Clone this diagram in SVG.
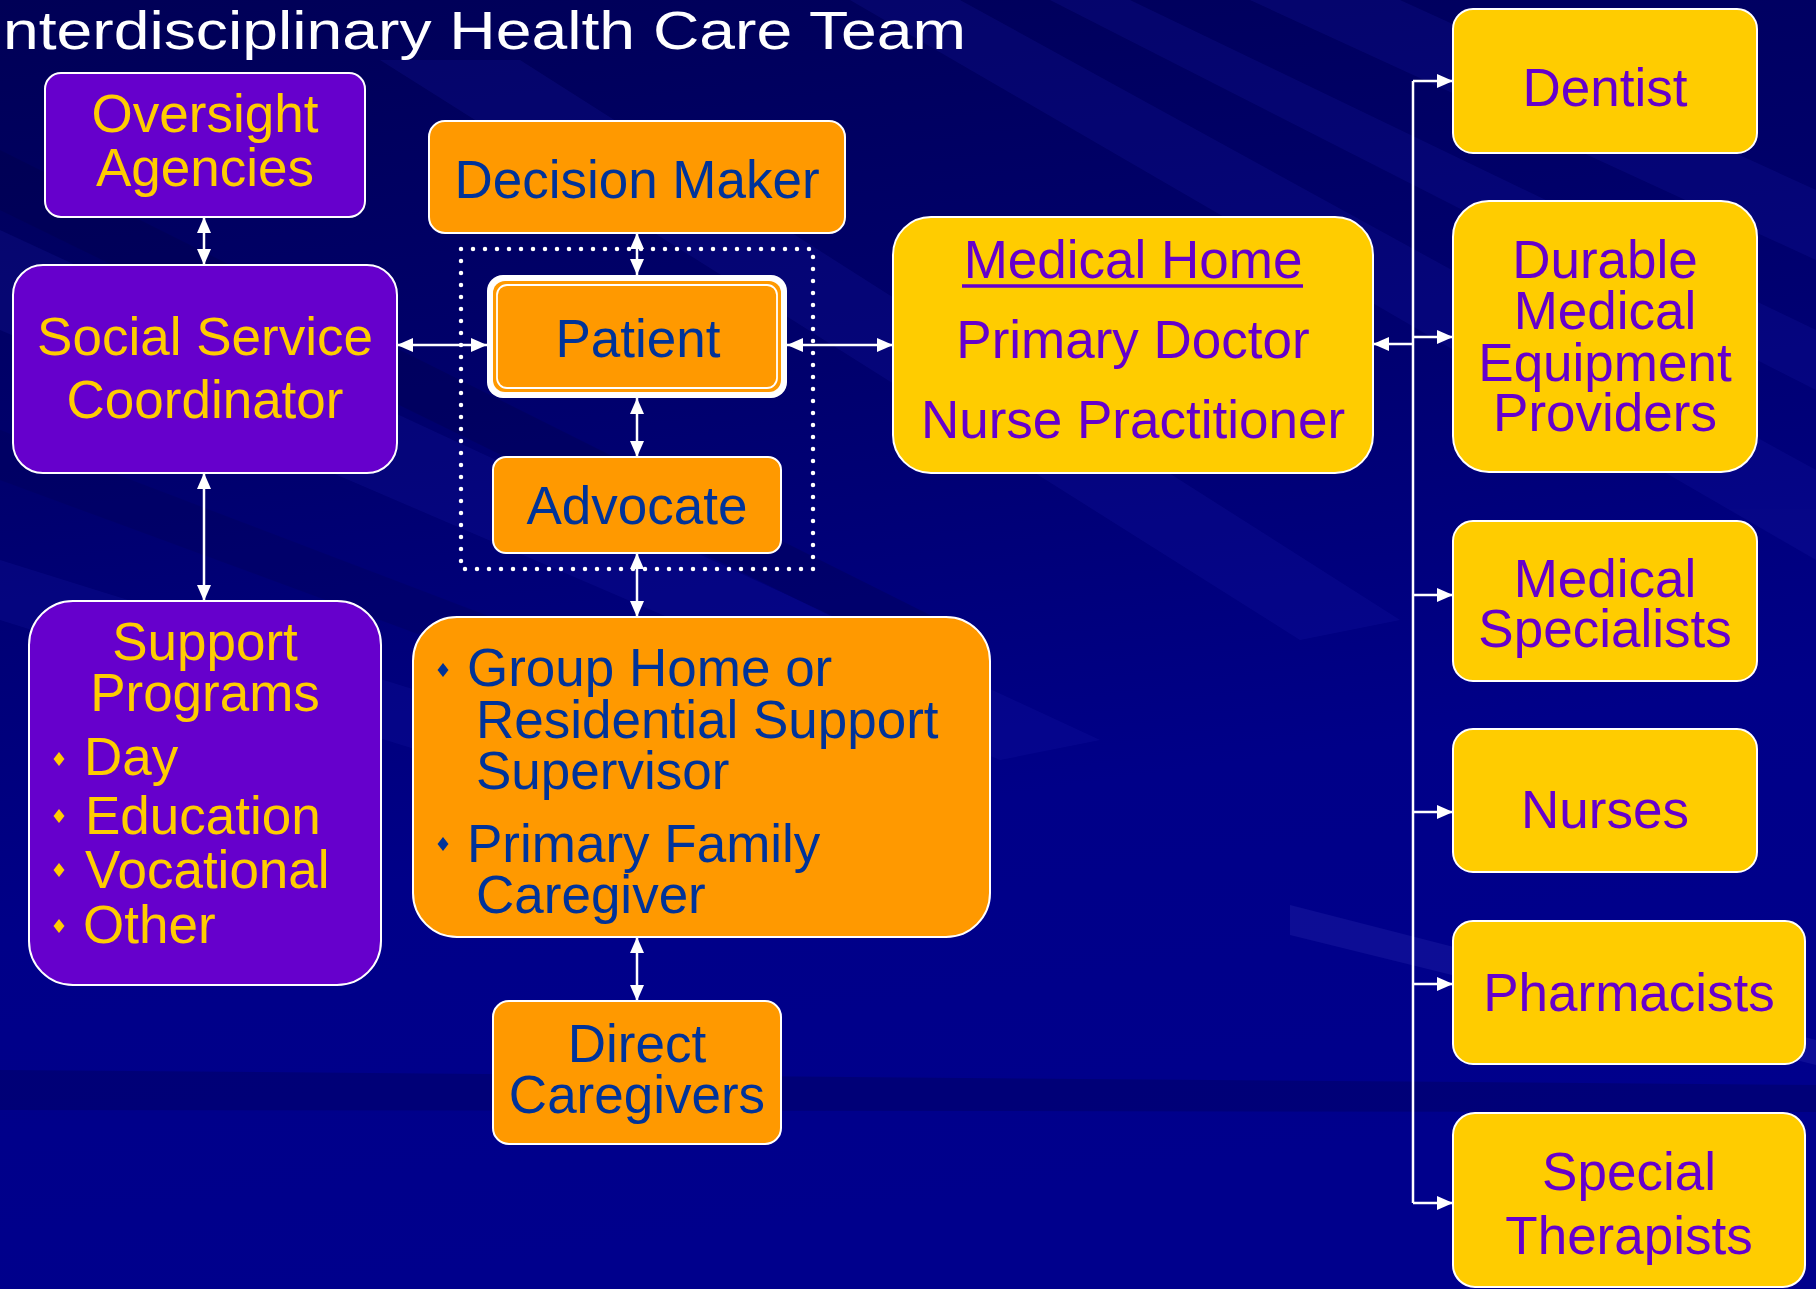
<svg xmlns="http://www.w3.org/2000/svg" width="1816" height="1289" viewBox="0 0 1816 1289">
  <defs>
    <linearGradient id="bg" x1="0" y1="0" x2="0.2" y2="1">
      <stop offset="0" stop-color="#000056"/>
      <stop offset="0.35" stop-color="#00006c"/>
      <stop offset="0.7" stop-color="#000088"/>
      <stop offset="1" stop-color="#00008c"/>
    </linearGradient>
    <marker id="head" viewBox="0 0 16 14" refX="16" refY="7" markerWidth="16" markerHeight="14" markerUnits="userSpaceOnUse" orient="auto-start-reverse">
      <path d="M0,0 L16,7 L0,14 z" fill="#ffffff"/>
    </marker>
    <path id="bullet" d="M0,-7 L5.5,0 L0,7 L-5.5,0 z"/>
    <style>
      .box { stroke: #ffffff; stroke-width: 2; }
      .purple { fill: #6600cc; }
      .orange { fill: #ff9900; }
      .yellow { fill: #ffcc00; }
      text { font-family: "Liberation Sans", Arial, sans-serif; font-size: 53px; }
      .t-yellow { fill: #ffcc00; }
      .t-blue { fill: #003399; }
      .t-purple { fill: #6600cc; }
      .mid { text-anchor: middle; }
      .link { stroke: #ffffff; stroke-width: 2.5; fill: none; }
      .dbl { marker-start: url(#head); marker-end: url(#head); }
      .one { marker-end: url(#head); }
      .streak { fill: #2020b0; }
    </style>
  </defs>

  <!-- background with soft diagonal streaks -->
  <rect x="0" y="0" width="1816" height="1289" fill="url(#bg)"/>
  <g opacity="0.18">
    <polygon class="streak" points="850,0 960,0 1816,470 1816,560"/>
    <polygon class="streak" points="1050,0 1130,0 1816,330 1816,390"/>
    <polygon class="streak" points="1250,0 1400,0 1816,190 1816,260"/>
    <polygon class="streak" points="380,60 520,60 1400,620 1300,640"/>
    <polygon class="streak" points="0,230 0,330 1000,760 1100,740"/>
    <polygon class="streak" points="0,560 0,620 900,900 960,860"/>
  </g>
  <g opacity="0.25">
    <polygon points="0,150 0,210 880,640 980,640" fill="#000040"/>
    <polygon points="0,430 0,480 760,760 840,750" fill="#000050"/>
  </g>
  <polygon points="1290,905 1816,1040 1816,1065 1290,935" fill="#2a2ab0" opacity="0.3"/>
  <polygon points="0,1070 1816,1085 1816,1112 0,1110" fill="#000060" opacity="0.45"/>

  <!-- heading -->
  <text x="3" y="49" font-size="64" fill="#ffffff" textLength="963" lengthAdjust="spacingAndGlyphs">nterdisciplinary Health Care Team</text>

  <!-- connectors -->
  <g id="connectors">
    <line class="link dbl" x1="204" y1="217" x2="204" y2="265"/>
    <line class="link dbl" x1="397" y1="345" x2="487" y2="345"/>
    <line class="link dbl" x1="637" y1="233" x2="637" y2="275"/>
    <line class="link dbl" x1="787" y1="345" x2="893" y2="345"/>
    <line class="link dbl" x1="637" y1="398" x2="637" y2="457"/>
    <line class="link dbl" x1="204" y1="473" x2="204" y2="601"/>
    <line class="link dbl" x1="637" y1="553" x2="637" y2="617"/>
    <line class="link dbl" x1="637" y1="937" x2="637" y2="1001"/>
    <!-- provider bus -->
    <line class="link" x1="1413" y1="81" x2="1413" y2="1203"/>
    <line class="link one" x1="1413" y1="344" x2="1373" y2="344"/>
    <line class="link one" x1="1413" y1="81" x2="1453" y2="81"/>
    <line class="link one" x1="1413" y1="337" x2="1453" y2="337"/>
    <line class="link one" x1="1413" y1="595" x2="1453" y2="595"/>
    <line class="link one" x1="1413" y1="812" x2="1453" y2="812"/>
    <line class="link one" x1="1413" y1="984" x2="1453" y2="984"/>
    <line class="link one" x1="1413" y1="1203" x2="1453" y2="1203"/>
  </g>

  <!-- patient circle of support (dotted frame) -->
  <rect id="core-frame" x="461" y="249" width="352" height="320" fill="none" stroke="#ffffff" stroke-width="4.5" stroke-linecap="round" stroke-dasharray="0 12"/>

  <g id="oversight">
    <rect class="box purple" x="45" y="73" width="320" height="144" rx="16"/>
    <text class="t-yellow mid" x="205" y="132">Oversight</text>
    <text class="t-yellow mid" x="205" y="186">Agencies</text>
  </g>

  <g id="social-service">
    <rect class="box purple" x="13" y="265" width="384" height="208" rx="30"/>
    <text class="t-yellow mid" x="205" y="355">Social Service</text>
    <text class="t-yellow mid" x="205" y="418">Coordinator</text>
  </g>

  <g id="support-programs">
    <rect class="box purple" x="29" y="601" width="352" height="384" rx="44"/>
    <text class="t-yellow mid" x="205" y="660">Support</text>
    <text class="t-yellow mid" x="205" y="711">Programs</text>
    <use href="#bullet" x="59" y="759" fill="#ffcc00"/>
    <text class="t-yellow" x="84" y="775">Day</text>
    <use href="#bullet" x="59" y="816" fill="#ffcc00"/>
    <text class="t-yellow" x="85" y="834">Education</text>
    <use href="#bullet" x="59" y="870" fill="#ffcc00"/>
    <text class="t-yellow" x="85" y="888">Vocational</text>
    <use href="#bullet" x="59" y="926" fill="#ffcc00"/>
    <text class="t-yellow" x="83" y="943">Other</text>
  </g>

  <g id="decision-maker">
    <rect class="box orange" x="429" y="121" width="416" height="112" rx="16"/>
    <text class="t-blue mid" x="637" y="198">Decision Maker</text>
  </g>

  <g id="patient">
    <rect x="487" y="275" width="300" height="123" rx="16" fill="#ffffff"/>
    <rect x="493" y="281" width="288" height="111" rx="12" fill="#ff9900"/>
    <rect x="497" y="285" width="280" height="103" rx="10" fill="none" stroke="#ffffff" stroke-width="1.8"/>
    <text class="t-blue mid" x="638" y="357">Patient</text>
  </g>

  <g id="advocate">
    <rect class="box orange" x="493" y="457" width="288" height="96" rx="13"/>
    <text class="t-blue mid" x="637" y="524">Advocate</text>
  </g>

  <g id="residential">
    <rect class="box orange" x="413" y="617" width="577" height="320" rx="44"/>
    <use href="#bullet" x="443" y="670" fill="#003399"/>
    <text class="t-blue" x="467" y="686">Group Home or</text>
    <text class="t-blue" x="476" y="738">Residential Support</text>
    <text class="t-blue" x="476" y="789">Supervisor</text>
    <use href="#bullet" x="443" y="844" fill="#003399"/>
    <text class="t-blue" x="467" y="862">Primary Family</text>
    <text class="t-blue" x="476" y="913">Caregiver</text>
  </g>

  <g id="direct-caregivers">
    <rect class="box orange" x="493" y="1001" width="288" height="143" rx="16"/>
    <text class="t-blue mid" x="637" y="1062">Direct</text>
    <text class="t-blue mid" x="637" y="1113">Caregivers</text>
  </g>

  <g id="medical-home">
    <rect class="box yellow" x="893" y="217" width="480" height="256" rx="38"/>
    <text class="t-purple mid" x="1133" y="278">Medical Home</text>
    <line x1="962" y1="286" x2="1303" y2="286" stroke="#6600cc" stroke-width="3.5"/>
    <text class="t-purple mid" x="1133" y="358">Primary Doctor</text>
    <text class="t-purple mid" x="1133" y="438">Nurse Practitioner</text>
  </g>

  <g id="dentist">
    <rect class="box yellow" x="1453" y="9" width="304" height="144" rx="20"/>
    <text class="t-purple mid" x="1605" y="106">Dentist</text>
  </g>

  <g id="equipment">
    <rect class="box yellow" x="1453" y="201" width="304" height="271" rx="36"/>
    <text class="t-purple mid" x="1605" y="278">Durable</text>
    <text class="t-purple mid" x="1605" y="329">Medical</text>
    <text class="t-purple mid" x="1605" y="381">Equipment</text>
    <text class="t-purple mid" x="1605" y="431">Providers</text>
  </g>

  <g id="specialists">
    <rect class="box yellow" x="1453" y="521" width="304" height="160" rx="20"/>
    <text class="t-purple mid" x="1605" y="597">Medical</text>
    <text class="t-purple mid" x="1605" y="647">Specialists</text>
  </g>

  <g id="nurses">
    <rect class="box yellow" x="1453" y="729" width="304" height="143" rx="20"/>
    <text class="t-purple mid" x="1605" y="828">Nurses</text>
  </g>

  <g id="pharmacists">
    <rect class="box yellow" x="1453" y="921" width="352" height="143" rx="20"/>
    <text class="t-purple mid" x="1629" y="1011">Pharmacists</text>
  </g>

  <g id="therapists">
    <rect class="box yellow" x="1453" y="1113" width="352" height="174" rx="22"/>
    <text class="t-purple mid" x="1629" y="1190">Special</text>
    <text class="t-purple mid" x="1629" y="1254">Therapists</text>
  </g>
</svg>
